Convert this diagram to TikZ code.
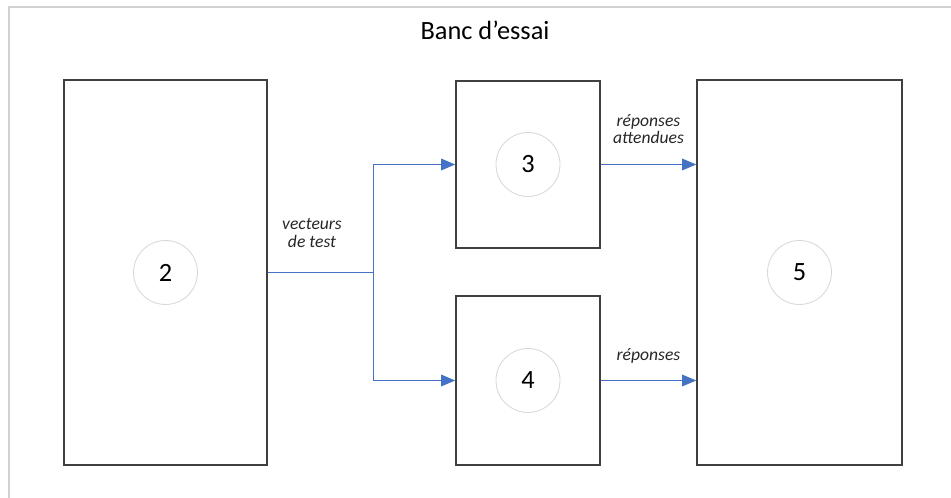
\documentclass[tikz,border=0pt]{standalone}
\usepackage{fontspec}
\setmainfont{Carlito}
\usetikzlibrary{arrows.meta, positioning, calc}
\definecolor{flowblue}{HTML}{4472C4}
\colorlet{boxborder}{black!75}
\colorlet{ringgray}{black!15}
\colorlet{framegray}{black!18}

\begin{document}
\begin{tikzpicture}[
    x=1cm, y=-1cm,
    >={Triangle[length=8pt, width=6.5pt]},
    block/.style={draw=boxborder, line width=0.8pt, inner sep=0pt},
    ring/.style={circle, draw=ringgray, line width=0.5pt, minimum size=1.28cm,
                 inner sep=0pt, font=\fontsize{15}{18}\selectfont},
    flow/.style={->, draw=flowblue, line width=0.9pt},
    flowlabel/.style={font=\fontsize{10}{12}\selectfont\itshape,
                      text=black!85, align=center, anchor=south},
]

\useasboundingbox (0, 0) rectangle (19.02, 9.96);

% Outer frame (top and left edges only)
\draw[framegray, line width=1.2pt] (0.18, 9.96) -- (0.18, 0.14) -- (19.02, 0.14);

% Title
\node[font=\fontsize{15}{18}\selectfont] (title) at (9.7, 0.6) {Banc d\symbol{"0027}essai};

% Blocks
\node[block, minimum width=4.06cm, minimum height=7.7cm]  (gen)  at (3.31, 5.45)  {};
\node[block, minimum width=2.88cm, minimum height=3.34cm] (ref)  at (10.56, 3.29) {};
\node[block, minimum width=2.88cm, minimum height=3.38cm] (dut)  at (10.56, 7.61) {};
\node[block, minimum width=4.10cm, minimum height=7.7cm]  (cmp)  at (15.99, 5.45) {};

% Numbered rings
\node[ring] (n2) at (gen) {2};
\node[ring] (n3) at (ref) {3};
\node[ring] (n4) at (dut) {4};
\node[ring] (n5) at (cmp) {5};

% Test vectors split towards the two blocks
\coordinate (split) at ($(gen.east)+(2.12, 0)$);
\draw[draw=flowblue, line width=0.9pt] (gen.east) -- (split);
\draw[flow] (split) |- (ref.west);
\draw[flow] (split) |- (dut.west);
\node[flowlabel] (lvec) at (6.24, 5.07) {vecteurs\\[-2pt]de test};

% Outputs into the comparator
\draw[flow] (ref.east) -- (ref.east -| cmp.west);
\draw[flow] (dut.east) -- (dut.east -| cmp.west);
\node[flowlabel] (lexp) at (12.97, 3.0) {réponses\\[-2pt]attendues};
\node[flowlabel] (lrep) at (12.97, 7.4) {réponses};

\end{tikzpicture}
\end{document}
